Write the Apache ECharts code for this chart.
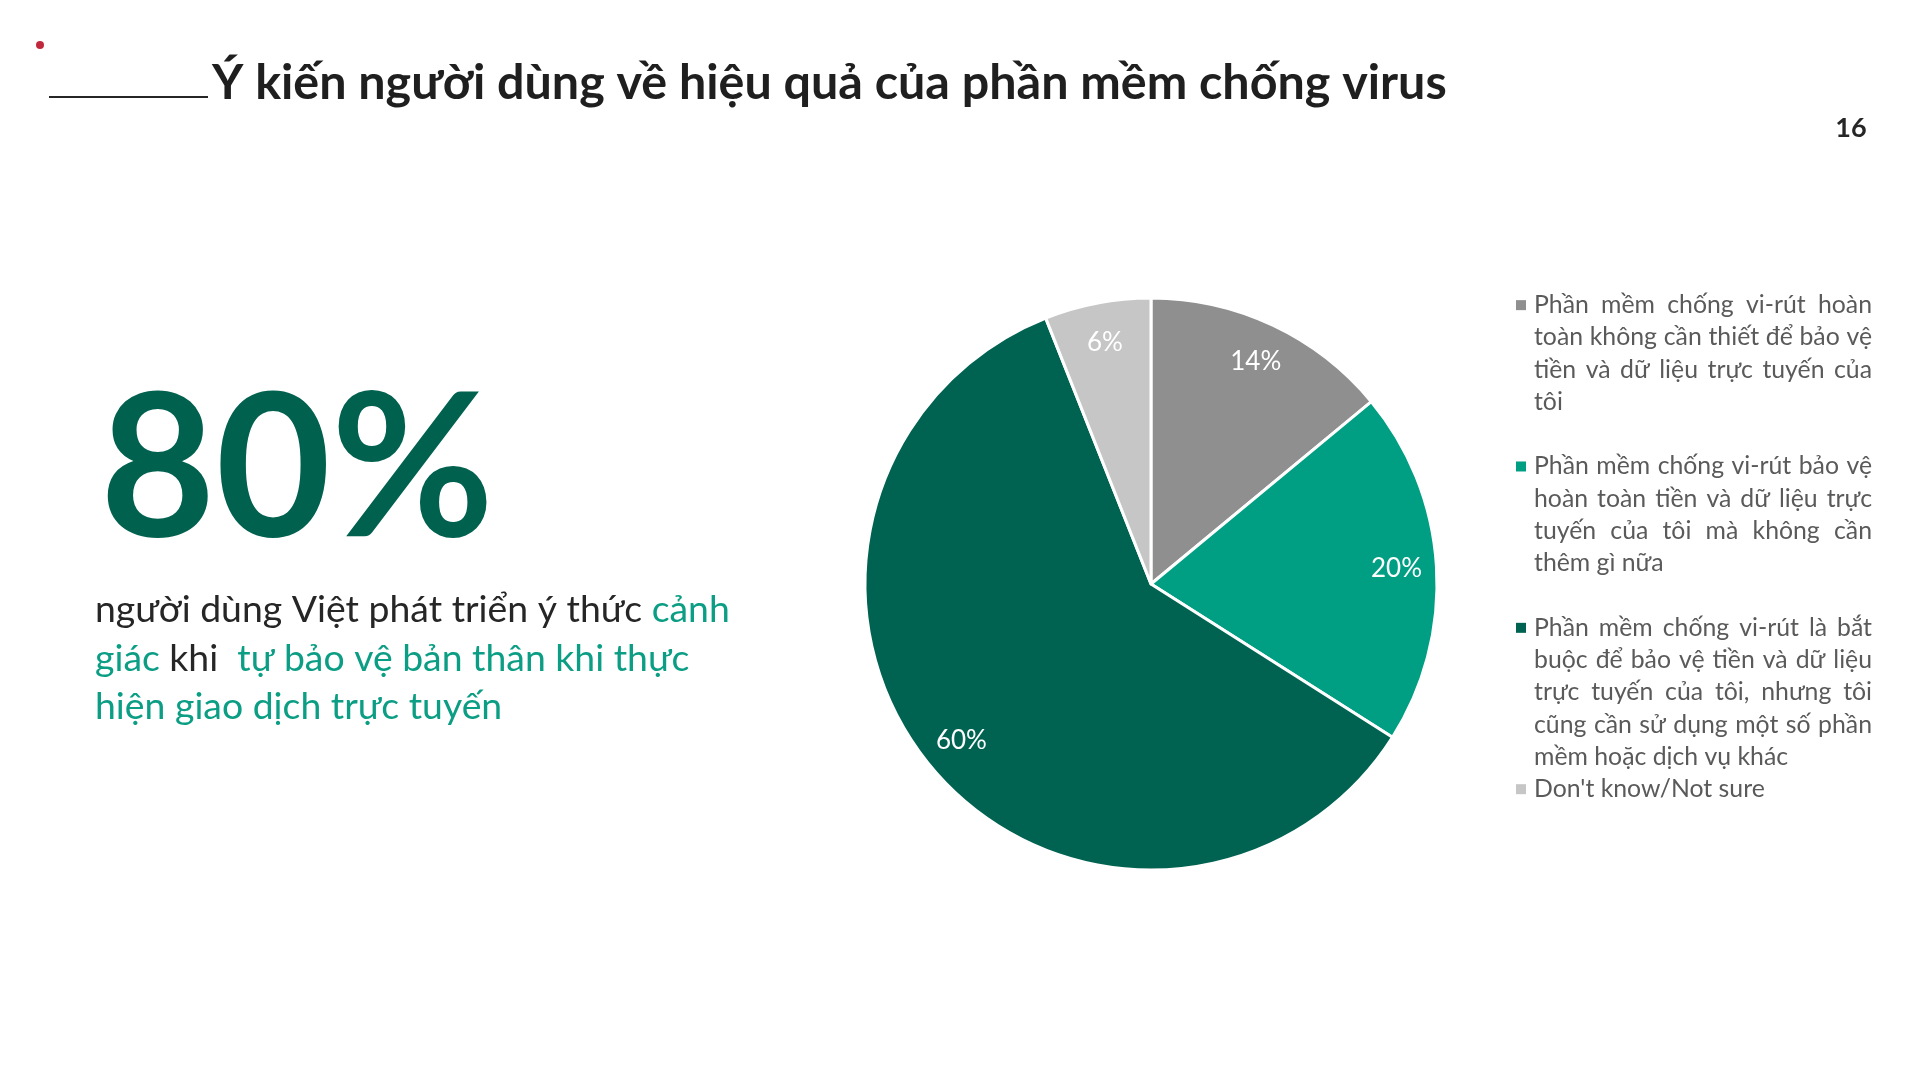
<!DOCTYPE html>
<html><head><meta charset="utf-8">
<script src="https://cdn.jsdelivr.net/npm/echarts@6/dist/echarts.min.js"></script>
<style>html,body{margin:0;padding:0;background:#fff;}#c{width:1920px;height:1080px;}</style>
</head><body><div id="c"></div>
<script>
// ---- data ----
const categories = [
  'Phần mềm chống vi-rút hoàn toàn không cần thiết để bảo vệ tiền và dữ liệu trực tuyến của tôi',
  'Phần mềm chống vi-rút bảo vệ hoàn toàn tiền và dữ liệu trực tuyến của tôi mà không cần thêm gì nữa',
  'Phần mềm chống vi-rút là bắt buộc để bảo vệ tiền và dữ liệu trực tuyến của tôi, nhưng tôi cũng cần sử dụng một số phần mềm hoặc dịch vụ khác',
  "Don't know/Not sure"
];
const values = [14, 20, 60, 6];
const legendLines = [
  ['Phần mềm chống vi-rút hoàn', 'toàn không cần thiết để bảo vệ', 'tiền và dữ liệu trực tuyến của', 'tôi'],
  ['Phần mềm chống vi-rút bảo vệ', 'hoàn toàn tiền và dữ liệu trực', 'tuyến của tôi mà không cần', 'thêm gì nữa'],
  ['Phần mềm chống vi-rút là bắt', 'buộc để bảo vệ tiền và dữ liệu', 'trực tuyến của tôi, nhưng tôi', 'cũng cần sử dụng một số phần', 'mềm hoặc dịch vụ khác'],
  ["Don't know/Not sure"]
];
const titleText = 'Ý kiến người dùng về hiệu quả của phần mềm chống virus';
const pageNumber = '16';
const heroValue = '80%';
const subtitleLines = [
  [['người dùng Việt phát triển ý thức ', 'd'], ['cảnh', 'g']],
  [['giác', 'g'], [' khi  ', 'd'], ['tự bảo vệ bản thân khi thực', 'g']],
  [['hiện giao dịch trực tuyến', 'g']]
];

// ---- styles ----
const FONT = 'Lato';
const sliceColors = ['#8f8f8f', '#009f84', '#006352', '#c6c6c6'];
const legendColor = '#5a5a5a';

const mctx = document.createElement('canvas').getContext('2d');
function measure(text, size, weight) {
  mctx.font = weight + ' ' + size + 'px ' + FONT;
  return mctx.measureText(text).width;
}
function fit(text, target, weight) { return 100 * target / measure(text, 100, weight); }

const titleSize = fit(titleText, 1235, 'bold');
const heroSize = fit(heroValue, 394, 'bold');
const subSize = fit(subtitleLines[0].map(s => s[0]).join(''), 635, 'normal');

// legend justification
const LEG_W = 338, LEG_LH = 32.27;
let legMax = 0;
legendLines.forEach(p => p.forEach(l => { legMax = Math.max(legMax, measure(l, 100, 'normal')); }));
const legSize = Math.min(100 * (LEG_W - 2) / legMax, 26);

const rich = {
  t: { fontFamily: FONT, fontSize: legSize, color: legendColor, lineHeight: LEG_LH },
  ind: { width: 18, lineHeight: LEG_LH },
  e: { width: 1, lineHeight: LEG_LH },
  gap: { width: 8, lineHeight: LEG_LH }
};
sliceColors.forEach((c, i) => { rich['m' + i] = { width: 10, height: 10, backgroundColor: c, lineHeight: LEG_LH }; });
const legendText = {};
let spCount = 0;
legendLines.forEach((para, pi) => {
  const out = para.map((line, li) => {
    const prefix = li === 0 ? '{m' + pi + '|}{gap|}' : '{ind|}';
    const isLast = li === para.length - 1;
    if (isLast) return prefix + '{t|' + line + '}';
    const words = line.split(' ');
    const sum = words.reduce((a, w) => a + measure(w, legSize, 'normal'), 0);
    const sw = (LEG_W - sum) / (words.length - 1);
    const key = 's' + (spCount++);
    rich[key] = { width: sw, lineHeight: LEG_LH };
    return prefix + words.map(w => '{t|' + w + '}').join('{' + key + '|}');
  });
  let txt = out.join('\n');
  if (pi < 2) txt += '\n{e|}';
  legendText[categories[pi]] = txt;
});

const subRich = {
  d: { fontFamily: FONT, fontSize: subSize, fill: '#262626', lineHeight: 48.5 },
  g: { fontFamily: FONT, fontSize: subSize, fill: '#0c9e85', lineHeight: 48.5 }
};
const subText = subtitleLines.map(l => l.map(s => '{' + s[1] + '|' + s[0] + '}').join('')).join('\n');

const pieData = categories.map((n, i) => ({ name: n, value: values[i], itemStyle: { color: sliceColors[i] } }));

const chart = echarts.init(document.getElementById('c'));
chart.setOption({
  animation: false,
  backgroundColor: '#fff',
  legend: {
    orient: 'vertical', left: 1511, top: 289, padding: 0, itemGap: 0,
    icon: 'none', itemWidth: 0, itemHeight: 10,
    selectedMode: false,
    data: categories,
    formatter: n => legendText[n],
    textStyle: { fontFamily: FONT, fontSize: legSize, color: legendColor, lineHeight: LEG_LH, rich: rich }
  },
  series: [
    {
      type: 'pie', center: [1151, 584], radius: [0, 286], startAngle: 90, clockwise: true,
      data: pieData, silent: true,
      itemStyle: { borderColor: '#fff', borderWidth: 3 },
      label: { show: false }, labelLine: { show: false }
    },
    {
      type: 'pie', center: [1151, 584], radius: [200, 286], startAngle: 90, clockwise: true,
      silent: true,
      data: pieData.map(d => ({ name: d.name, value: d.value, itemStyle: { color: 'rgba(0,0,0,0)' } })),
      itemStyle: { borderWidth: 0 },
      label: { show: true, position: 'inside', formatter: '{c}%', color: '#fff', fontFamily: FONT, fontSize: 26 },
      labelLine: { show: false }
    }
  ],
  graphic: [
    { type: 'circle', shape: { cx: 40, cy: 45, r: 4 }, style: { fill: '#c0283c' } },
    { type: 'line', shape: { x1: 49, y1: 97, x2: 208, y2: 97 }, style: { stroke: '#262626', lineWidth: 2 } },
    { type: 'text', x: 212, y: 83, style: { text: titleText, fontFamily: FONT, fontWeight: 'bold', fontSize: titleSize, fill: '#1f1f1f', align: 'left', verticalAlign: 'middle' } },
    { type: 'text', x: 1851, y: 128, style: { text: pageNumber, fontFamily: FONT, fontWeight: 'bold', fontSize: 27, fill: '#262626', align: 'center', verticalAlign: 'middle' } },
    { type: 'text', x: 100, y: 472, style: { text: heroValue, fontFamily: FONT, fontWeight: 'bold', fontSize: heroSize, fill: '#00614f', align: 'left', verticalAlign: 'middle' } },
    { type: 'text', x: 95, y: 586, style: { text: subText, rich: subRich, align: 'left', verticalAlign: 'top' } }
  ]
});
</script></body></html>
